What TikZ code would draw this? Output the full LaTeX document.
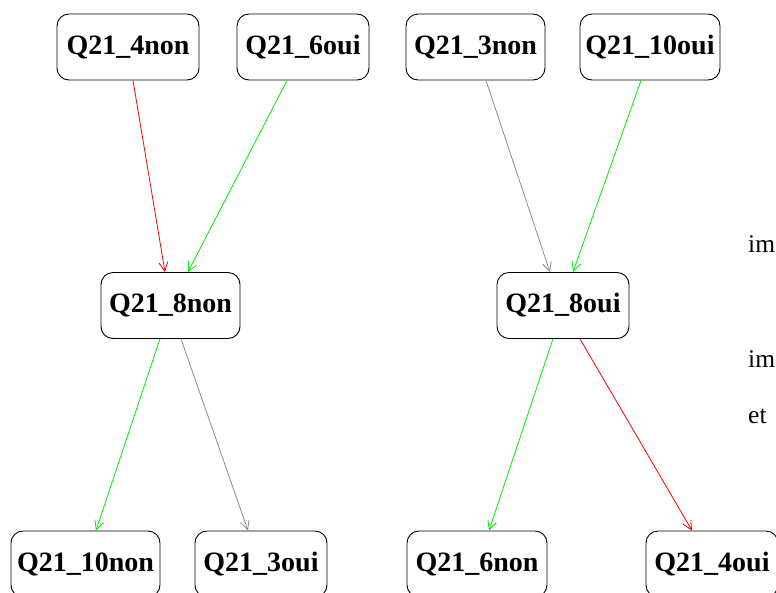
\documentclass[tikz,border=0pt]{standalone}
\usepackage{fontspec}
\setmainfont{Liberation Serif}
\usetikzlibrary{arrows.meta,positioning}

\begin{document}
\begin{tikzpicture}[
        x=1pt, y=-1pt,
        qbox/.style={rectangle, draw, rounded corners=12pt, minimum width=134pt, minimum height=66pt, inner xsep=4pt, align=center, line width=0.9pt, font=\fontsize{28}{30}\selectfont\bfseries},
        arrow/.style={-{Straight Barb[length=9pt, width=9pt]}, line width=0.8pt},
        oui/.style={arrow, draw={rgb,255:red,0;green,235;blue,0}},
        non/.style={arrow, draw={rgb,255:red,255;green,0;blue,0}},
        neutre/.style={arrow, draw=gray!90},
        page/.style={anchor=base west, inner sep=0pt, font=\fontsize{25.5}{30}\selectfont}
    ]
        \useasboundingbox (0,0) rectangle (776,592);

        % Nodes
        \node[qbox, minimum width=142pt] (q4non) at (128,47) {Q21\_4non};
        \node[qbox, minimum width=132pt] (q6oui) at (303,47) {Q21\_6oui};
        \node[qbox, minimum width=139pt] (q3non) at (475.5,47) {Q21\_3non};
        \node[qbox, minimum width=140pt] (q10oui) at (650,47) {Q21\_10oui};

        \node[qbox, minimum width=139pt] (q8non) at (170.5,305.5) {Q21\_8non};
        \node[qbox, minimum width=132pt] (q8oui) at (563,305.5) {Q21\_8oui};

        \node[qbox, minimum width=149pt] (q10non) at (85.5,564) {Q21\_10non};
        \node[qbox, minimum width=132pt] (q3oui) at (261,564) {Q21\_3oui};
        \node[qbox, minimum width=140pt] (q6non) at (477,564) {Q21\_6non};
        \node[qbox, minimum width=132pt] (q4oui) at (712,564) {Q21\_4oui};

        % Arrows
        \draw[non] ([xshift=5pt]q4non.south) -- ([xshift=-5.5pt]q8non.north);
        \draw[oui] ([xshift=-16pt]q6oui.south) -- ([xshift=17.5pt]q8non.north);
        \draw[neutre] ([xshift=10.5pt]q3non.south) -- ([xshift=-13pt]q8oui.north);
        \draw[oui] ([xshift=-9pt]q10oui.south) -- ([xshift=10pt]q8oui.north);

        \draw[oui] ([xshift=-10.5pt]q8non.south) -- ([xshift=10.5pt]q10non.north);
        \draw[neutre] ([xshift=10.5pt]q8non.south) -- ([xshift=-13pt]q3oui.north);
        \draw[oui] ([xshift=-10pt]q8oui.south) -- ([xshift=12pt]q6non.north);
        \draw[non] ([xshift=17pt]q8oui.south) -- ([xshift=-20pt]q4oui.north);

        % Text of the page behind the figure
        \node[page] (txta) at (748,252) {im};
        \node[page] (txtb) at (748,367) {im};
        \node[page] (txtc) at (748,423) {et};

    \end{tikzpicture}
\end{document}
